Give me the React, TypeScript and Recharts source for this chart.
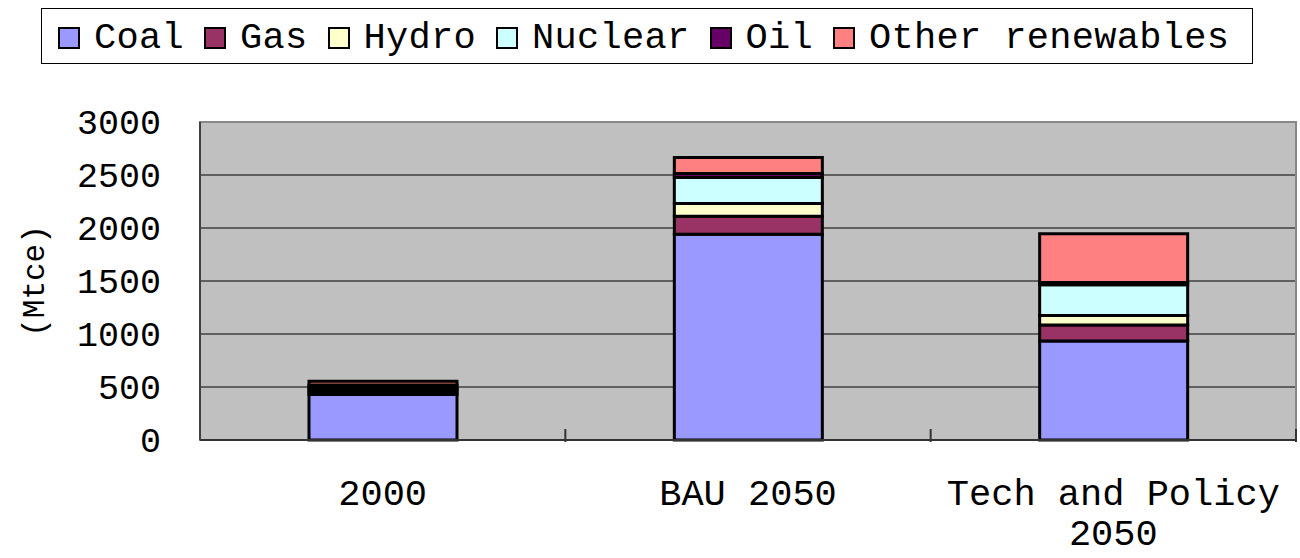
import { Bar, BarChart, CartesianGrid, ReferenceArea, XAxis, YAxis } from "recharts";

const categories = ["2000", "BAU 2050", "Tech and Policy\n2050"];
const coal = [430, 1940, 935];
const gas = [20, 172, 150];
const hydro = [25, 120, 90];
const nuclear = [15, 245, 290];
const oil = [30, 38, 20];
const otherRenewables = [35, 151, 460];
const yTicks = [0, 500, 1000, 1500, 2000, 2500, 3000];

const series = [
  { key: "coal", name: "Coal", color: "#9999FF", values: coal },
  { key: "gas", name: "Gas", color: "#993366", values: gas },
  { key: "hydro", name: "Hydro", color: "#FFFFCC", values: hydro },
  { key: "nuclear", name: "Nuclear", color: "#CCFFFF", values: nuclear },
  { key: "oil", name: "Oil", color: "#660066", values: oil },
  { key: "other", name: "Other renewables", color: "#FF8080", values: otherRenewables },
];

const data = categories.map((c, i) => {
  const row: Record<string, string | number> = { name: c };
  series.forEach((s) => (row[s.key] = s.values[i]));
  return row;
});

const FONT = '"Liberation Mono", monospace';

// category label + the small divider tick on the right edge of each band
function CatTick({ x, y, payload }: any) {
  const lines = String(payload.value).split("\n");
  const half = payload.offset ?? 0;
  return (
    <g>
      <line x1={x + half} x2={x + half} y1={y - 13} y2={y} stroke="#333" strokeWidth={2} />
      <text x={x} y={y + 63} textAnchor="middle" fontFamily={FONT} fontSize={37} fill="#000">
        {lines.map((l, i) => (
          <tspan key={i} x={x} dy={i === 0 ? 0 : 40}>
            {l}
          </tspan>
        ))}
      </text>
    </g>
  );
}

function Legend() {
  return (
    <div
      style={{
        position: "absolute",
        left: 41,
        top: 8,
        width: 1212,
        height: 56,
        border: "1px solid #000",
        background: "#fff",
        display: "flex",
        alignItems: "center",
        paddingLeft: 16,
        paddingTop: 3,
        boxSizing: "border-box",
        fontFamily: FONT,
        fontSize: 37,
        letterSpacing: 0.3,
        whiteSpace: "nowrap",
      }}
    >
      {series.map((s, i) => (
        <div
          key={s.key}
          style={{ display: "flex", alignItems: "center", flexShrink: 0, marginRight: i < series.length - 1 ? 20 : 0 }}
        >
          <span
            style={{
              width: 18,
              height: 18,
              background: s.color,
              border: "2px solid #000",
              marginRight: 14,
            }}
          />
          <span>{s.name}</span>
        </div>
      ))}
    </div>
  );
}

export default function App() {
  return (
    <div style={{ position: "absolute", left: 0, top: 0, width: 1300, height: 558, background: "#fff" }}>
      <Legend />
      <BarChart
        width={1300}
        height={558}
        data={data}
        margin={{ top: 122, right: 4, bottom: 0, left: 0 }}
        barSize={148}
      >
        <CartesianGrid fill="#C0C0C0" vertical={false} stroke="#000" strokeWidth={1} />
        <ReferenceArea y1={0} y2={3000} fill="none" stroke="#888" strokeWidth={2} />
        <XAxis
          dataKey="name"
          height={118}
          tickSize={0}
          tickLine={false}
          axisLine={{ stroke: "#333", strokeWidth: 2 }}
          tick={<CatTick />}
          interval={0}
        />
        <YAxis
          width={200}
          domain={[0, 3000]}
          ticks={yTicks}
          interval={0}
          axisLine={{ stroke: "#404040", strokeWidth: 2 }}
          tickLine={false}
          tickSize={0}
          tickMargin={39}
          tick={{ fontFamily: FONT, fontSize: 35, fill: "#000" }}
          label={{
            content: ({ viewBox }: any) => (
              <text
                x={36}
                y={viewBox.y + viewBox.height / 2}
                transform={`rotate(-90 36 ${viewBox.y + viewBox.height / 2})`}
                textAnchor="middle"
                dominantBaseline="middle"
                fontFamily={FONT}
                fontSize={31}
                fill="#000"
              >
                (Mtce)
              </text>
            ),
          }}
        />
        {series.map((s) => (
          <Bar
            key={s.key}
            dataKey={s.key}
            name={s.name}
            stackId="a"
            fill={s.color}
            stroke="#000"
            strokeWidth={3}
            isAnimationActive={false}
          />
        ))}
      </BarChart>
    </div>
  );
}
